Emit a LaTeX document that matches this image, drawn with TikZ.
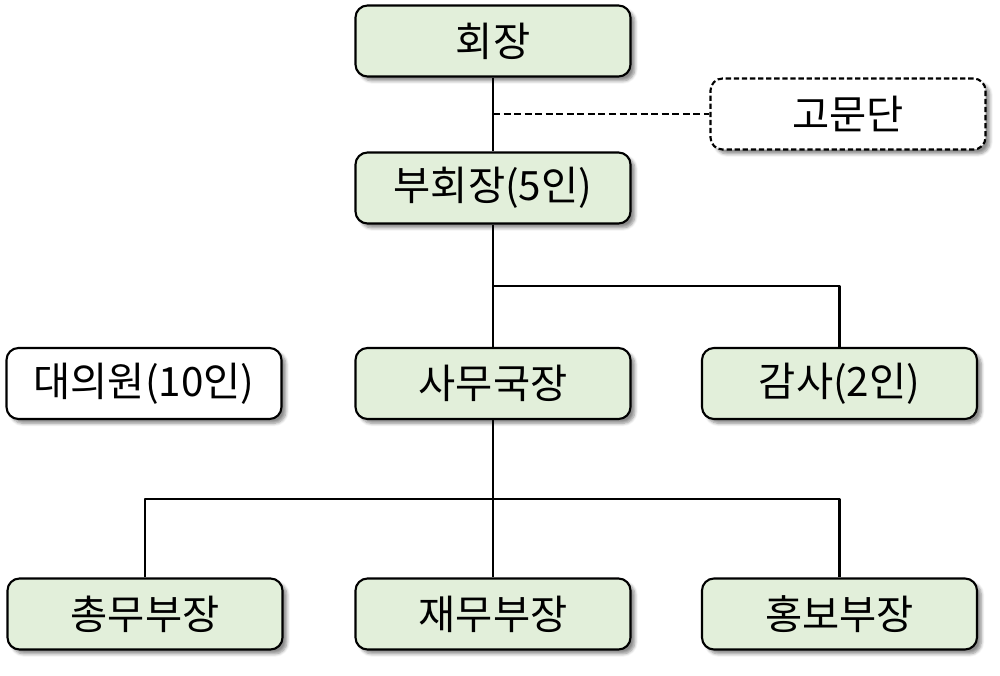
\documentclass[tikz,border=0pt]{standalone}
\usepackage{fontspec}
\newfontfamily\kr{Noto Sans CJK KR}
\usetikzlibrary{calc,shadows.blur}
\definecolor{boxgreen}{HTML}{E2EFDA}
\tikzset{
  orgbox/.style={draw=black, line width=1.2pt, rounded corners=0.24cm, fill=boxgreen,
    minimum width=5.5cm, minimum height=1.42cm, inner sep=0pt,
    blur shadow={shadow xshift=2.5pt, shadow yshift=-2.5pt, shadow blur steps=6, shadow opacity=45}},
  plainbox/.style={orgbox, fill=white},
  advbox/.style={plainbox, dash pattern=on 3pt off 1.6pt},
  link/.style={line width=1.3pt}
}
\begin{document}
\begin{tikzpicture}[font=\kr\fontsize{23}{27}\selectfont, line join=round]
\useasboundingbox (0,0) rectangle (20,-13.5);
% top of the tree
\node[orgbox] (hj) at (9.86,-0.82) {회장};
\node[advbox] (gmd) at (16.96,-2.28) {고문단};
\node[orgbox] (bhj) at (9.86,-3.76) {부회장(5인)};
% middle row
\node[plainbox] (dew) at (2.88,-7.67) {대의원(10인)};
\node[orgbox] (smj) at (9.86,-7.67) {사무국장};
\node[orgbox] (gs) at (16.79,-7.67) {감사(2인)};
% departments
\node[orgbox] (cm) at (2.90,-12.28) {총무부장};
\node[orgbox] (jm) at (9.86,-12.28) {재무부장};
\node[orgbox] (hb) at (16.79,-12.28) {홍보부장};
% connectors
\draw[link] (hj) -- (bhj);
\draw[link, dash pattern=on 4pt off 2pt] (hj.south |- gmd.west) -- (gmd.west);
\draw[link] (bhj) -- (smj);
\draw[link] ($(bhj.south)!0.5!(smj.north)$) -| (gs.north);
\draw[link] (smj) -- (jm);
\draw[link] (cm.north) |- ($(smj.south)!0.5!(jm.north)$) -| (hb.north);
\end{tikzpicture}
\end{document}
